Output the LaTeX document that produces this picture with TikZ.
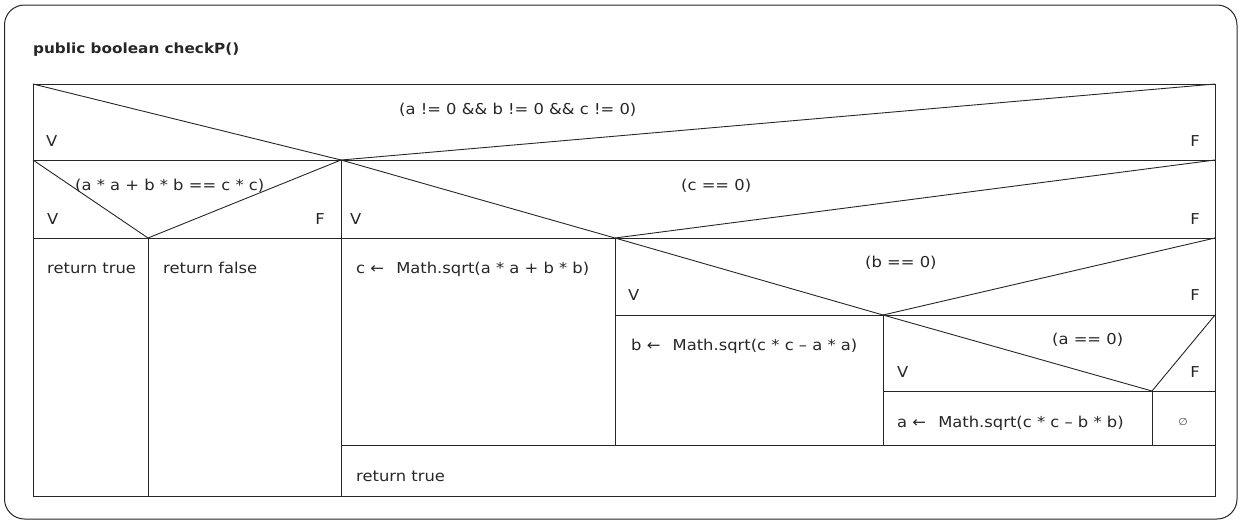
\documentclass[tikz,border=0pt]{standalone}
\usepackage{fontspec}
\setmainfont{DejaVu Sans}[FakeStretch=1.09]
\begin{document}
\begin{tikzpicture}[x=1pt,y=-1pt,
  ln/.style={draw=black!85, line width=0.9pt},
  txt/.style={anchor=base west, inner sep=0pt, text=black!85, font=\fontsize{15}{18}\selectfont},
  flagF/.style={anchor=base east, inner sep=0pt, text=black!85, font=\fontsize{15}{18}\selectfont}]
\useasboundingbox (0,0) rectangle (1242,523);
\draw[draw=black!85, line width=1pt, rounded corners=20pt] (4.5,5) rectangle (1237,519);
% frame coordinates
\coordinate (A) at (33,84);
\coordinate (B) at (1215,84);
\coordinate (C) at (1215,496);
\coordinate (D) at (33,496);
\coordinate (p1) at (341,160);
\coordinate (p2) at (148,238);
\coordinate (p3) at (615,238);
\coordinate (p4) at (883,315);
\coordinate (p5) at (1152,391);
% outer box
\draw[ln] (A) rectangle (C);
% horizontal lines
\draw[ln] (33,160) -- (1215,160);
\draw[ln] (33,238) -- (1215,238);
\draw[ln] (615,315) -- (1215,315);
\draw[ln] (883,391) -- (1215,391);
\draw[ln] (341,445) -- (1215,445);
% vertical lines
\draw[ln] (p1) -- (341,496);
\draw[ln] (p2) -- (148,496);
\draw[ln] (p3) -- (615,445);
\draw[ln] (p4) -- (883,445);
\draw[ln] (p5) -- (1152,445);
% decision diagonals
\draw[ln] (A) -- (p1) -- (B);
\draw[ln] (33,160) -- (p2) -- (p1);
\draw[ln] (p1) -- (p3) -- (1215,160);
\draw[ln] (p3) -- (p4) -- (1215,238);
\draw[ln] (p4) -- (p5) -- (1215,315);
% title
\node[txt, font=\bfseries\fontsize{14}{17}\selectfont] (title) at (33,53) {public boolean checkP()};
% conditions
\node[txt] (c1) at (399,114) {(a != 0 \&\& b != 0 \&\& c != 0)};
\node[txt] (c2) at (75,190) {(a * a + b * b == c * c)};
\node[txt] (c3) at (681,190) {(c == 0)};
\node[txt] (c4) at (865,267) {(b == 0)};
\node[txt] (c5) at (1052,344) {(a == 0)};
% V / F labels
\node[txt] (v1) at (46,146) {V};
\node[flagF] (f1) at (1200,146) {F};
\node[txt] (v2) at (47,224) {V};
\node[flagF] (f2) at (325,224) {F};
\node[txt] (v3) at (350,224) {V};
\node[flagF] (f3) at (1200,224) {F};
\node[txt] (v4) at (628,300) {V};
\node[flagF] (f4) at (1200,300) {F};
\node[txt] (v5) at (897,377) {V};
\node[flagF] (f5) at (1200,377) {F};
% statements
\node[txt] (s1) at (47,273) {return true};
\node[txt] (s2) at (163,273) {return false};
\node[txt] (s3) at (356,273) {c ←\hspace{7pt} Math.sqrt(a * a + b * b)};
\node[txt] (s4) at (631,350) {b ←\hspace{7pt} Math.sqrt(c * c – a * a)};
\node[txt] (s5) at (897,427) {a ←\hspace{7pt} Math.sqrt(c * c – b * b)};
\node[anchor=center, inner sep=0pt, text=black!70, font=\fontsize{10}{12}\selectfont] (s6) at (1183,422) {∅};
\node[txt] (s7) at (356,481) {return true};
\end{tikzpicture}
\end{document}
